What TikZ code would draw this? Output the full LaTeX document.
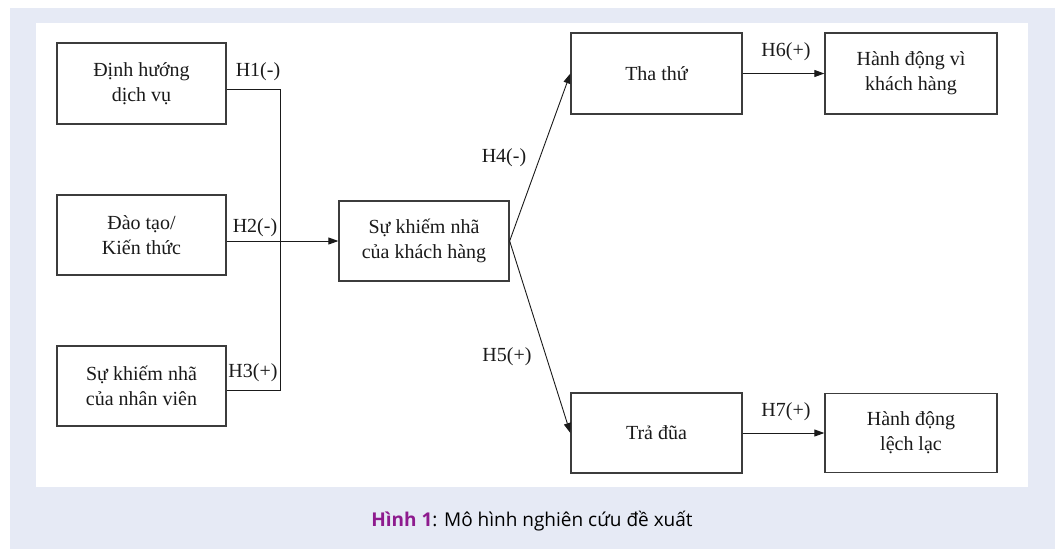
\documentclass[tikz,border=0pt]{standalone}
\usepackage{fontspec}
\setmainfont{Liberation Serif}
\newfontfamily\capfont{Open Sans}
\usetikzlibrary{arrows.meta}
\definecolor{panelbg}{HTML}{E6EAF5}
\definecolor{ink}{HTML}{1A1A1A}
\definecolor{capviolet}{HTML}{8E1B8E}

\begin{document}
\begin{tikzpicture}[x=1pt,y=-1pt,
  box/.style={draw=ink!85, line width=1.3pt, minimum width=170pt, minimum height=80pt,
    align=center, font=\fontsize{20}{25}\selectfont, text=ink, inner sep=2pt},
  hyp/.style={font=\fontsize{20}{24}\selectfont, text=ink, inner sep=0pt},
  link/.style={draw=ink, line width=0.9pt},
  arr/.style={link, -{Triangle[length=10pt,width=7pt]}}]
\useasboundingbox (0,0) rectangle (1055,549);
% page, tinted frame and white panel
\fill[white] (0,0) rectangle (1055,549);
\fill[panelbg] (10,8) rectangle (1055,549);
\fill[white] (36,23) rectangle (1028,487);

% antecedents
\node[box, minimum width=169pt, minimum height=81pt] (dinh) at (141.5,83.5) {Định hướng\\dịch vụ};
\node[box, minimum width=169pt] (dao) at (141.5,235) {Đào tạo/\\Kiến thức};
\node[box, minimum width=169pt] (nv) at (141.5,386) {Sự khiếm nhã\\của nhân viên};
% central construct
\node[box] (kh) at (424,241) {Sự khiếm nhã\\của khách hàng};
% reactions
\node[box, minimum width=171pt, minimum height=81pt] (tha) at (656.5,73.5) {Tha thứ};
\node[box, minimum width=172pt, minimum height=81pt] (vi) at (911,73.5) {Hành động vì\\khách hàng};
\node[box, minimum width=171pt] (tra) at (656.5,433) {Trả đũa};
\node[box, minimum width=172pt, minimum height=79pt] (lech) at (911,433) {Hành động\\lệch lạc};

% bracket joining the antecedents
\coordinate (j1) at (280,89);
\coordinate (j3) at (280,390);
\draw[link] ([yshift=-5.5pt]dinh.east) -- (j1) -- (j3) -- ([yshift=-4pt]nv.east);
\draw[arr] (dao.east |- kh.west) -- (kh.west);

% paths to reactions and outcomes
\draw[arr] (kh.east) -- (tha.west);
\draw[arr] (kh.east) -- (tra.west);
\draw[arr] (tha.east) -- (vi.west);
\draw[arr] (tra.east) -- (lech.west);

% hypothesis labels
\node[hyp] (h1) at (258,72) {H1(-)};
\node[hyp] (h2) at (255,228) {H2(-)};
\node[hyp] (h3) at (253,373) {H3(+)};
\node[hyp] (h4) at (504,158) {H4(-)};
\node[hyp] (h5) at (507,357) {H5(+)};
\node[hyp] (h6) at (786,52) {H6(+)};
\node[hyp] (h7) at (786,412) {H7(+)};

% caption
\node[font=\capfont\fontsize{19}{23}\selectfont, text=black] (cap) at (532,521)
  {{\bfseries\color{capviolet}Hình 1}: Mô hình nghiên cứu đề xuất};
\end{tikzpicture}
\end{document}
